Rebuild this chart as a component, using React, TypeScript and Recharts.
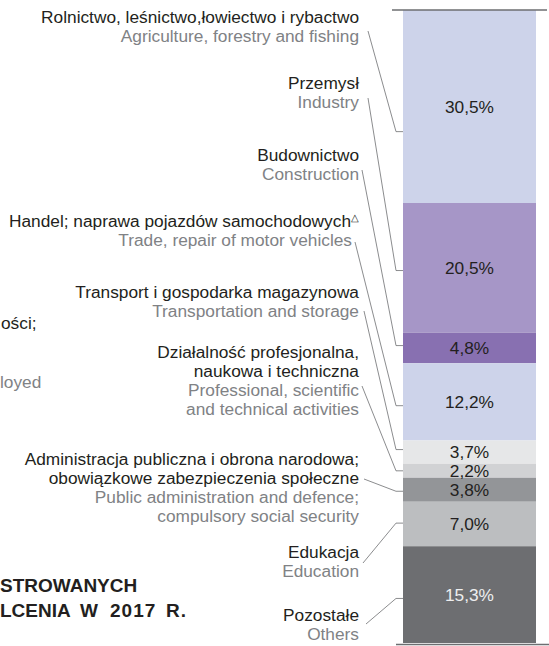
import React from "react";
import { Bar, BarChart, LabelList, XAxis, YAxis } from "recharts";

// sections of the national economy (PL / EN) and their share in %
const sectorsPl = [
  ["Rolnictwo, leśnictwo,łowiectwo i rybactwo"],
  ["Przemysł"],
  ["Budownictwo"],
  ["Handel; naprawa pojazdów samochodowych"],
  ["Transport i gospodarka magazynowa"],
  ["Działalność profesjonalna,", "naukowa i techniczna"],
  ["Administracja publiczna i obrona narodowa;", "obowiązkowe zabezpieczenia społeczne"],
  ["Edukacja"],
  ["Pozostałe"],
];
const sectorsEn = [
  ["Agriculture, forestry and fishing"],
  ["Industry"],
  ["Construction"],
  ["Trade, repair of motor vehicles"],
  ["Transportation and storage"],
  ["Professional, scientific", "and technical activities"],
  ["Public administration and defence;", "compulsory social security"],
  ["Education"],
  ["Others"],
];
const shares = [30.5, 20.5, 4.8, 12.2, 3.7, 2.2, 3.8, 7.0, 15.3];

const barColors = [
  "#cdd3ea",
  "#a696c7",
  "#8870b1",
  "#cdd3ea",
  "#e6e7e8",
  "#d1d2d4",
  "#939598",
  "#bcbec0",
  "#6d6e71",
];

// layout of the side annotations
const FONT = "'Liberation Sans', Arial, sans-serif";
const FONT_SIZE = 17.3;
const TEXT_RIGHT = 359;
const LINE_H = 19;
const blockTop = [23, 89, 161, 227, 298, 358, 465, 558, 621];
const enShift = [0, 0, 0, -7, 0, 0, 0, 0, 0];
const leaderStart = [
  [368, 31],
  [368, 98],
  [362, 170],
  [355, 242],
  [364, 311],
  [362, 386],
  [364, 479],
  [363, 563],
  [366, 624],
];
const leaderFrac = [0.63, 0.52, 0.42, 0.55, 0.39, 0.5, 0.56, 0.48, 0.54];

const chartData = [
  shares.reduce(
    (row: any, v, i) => ({ ...row, [`s${i}`]: v }),
    { name: "2017" }
  ),
];

const fmt = (v: number) => `${v.toFixed(1).replace(".", ",")}%`;

const SectorText = ({ index }: { index: number }) => {
  const top = blockTop[index];
  const pl = sectorsPl[index];
  const en = sectorsEn[index];
  return (
    <g fontFamily={FONT} fontSize={FONT_SIZE} textAnchor="end">
      {pl.map((t, i) => (
        <text key={`pl${i}`} x={TEXT_RIGHT} y={top + i * LINE_H} fill="#231f20">
          {t}
          {index === 3 && (
            <tspan fontSize={10} dy={-6}>
              △
            </tspan>
          )}
        </text>
      ))}
      {en.map((t, i) => (
        <text
          key={`en${i}`}
          x={TEXT_RIGHT + enShift[index]}
          y={top + (pl.length + i) * LINE_H}
          fill="#808285"
        >
          {t}
        </text>
      ))}
    </g>
  );
};

// pieces of the neighbouring chart cut off by the left edge
const CutOffText = () => (
  <g fontFamily={FONT}>
    <text x={1} y={329} fontSize={FONT_SIZE} fill="#231f20">
      ości;
    </text>
    <text x={0} y={388} fontSize={FONT_SIZE} fill="#808285">
      loyed
    </text>
    <text x={0} y={592} fontSize={19} fontWeight="bold" fill="#231f20">
      STROWANYCH
    </text>
    <text x={0} y={617} fontSize={19} fontWeight="bold" fill="#231f20">
      <tspan x={0}>LCENIA</tspan>
      <tspan x={80}>W</tspan>
      <tspan x={110} letterSpacing={1}>
        2017
      </tspan>
      <tspan x={166} letterSpacing={1}>
        R.
      </tspan>
    </text>
  </g>
);

const SegmentLabel = ({ props, index }: { props: any; index: number }) => {
  const vb = props.viewBox ?? props;
  const { x, width } = vb;
  // reversed axis gives negative heights, so normalise the box
  const top = Math.min(vb.y, vb.y + vb.height);
  const h = Math.abs(vb.height);
  const [sx, sy] = leaderStart[index];
  const ey = top + h * leaderFrac[index];
  const last = index === shares.length - 1;
  return (
    <g>
      <polyline
        points={`${sx},${sy} ${x - 7},${ey} ${x},${ey}`}
        fill="none"
        stroke="#6d6e71"
        strokeWidth={0.8}
      />
      <text
        x={x + width / 2}
        y={top + h / 2}
        dy="0.36em"
        textAnchor="middle"
        fontFamily={FONT}
        fontSize={FONT_SIZE}
        fill={last ? "#eeeeef" : "#231f20"}
      >
        {fmt(props.value)}
      </text>
      {index === 0 && (
        <line
          x1={x - 11}
          x2={x + width + 11}
          y1={top}
          y2={top}
          stroke="#6d6e71"
          strokeWidth={1.4}
        />
      )}
      {last && (
        <line
          x1={x - 7}
          x2={549}
          y1={top + h + 1.5}
          y2={top + h + 1.5}
          stroke="#6d6e71"
          strokeWidth={1.4}
        />
      )}
      <SectorText index={index} />
      {index === 0 && <CutOffText />}
    </g>
  );
};

const SectorBarChart = () => {
  return (
    <BarChart
      width={549}
      height={646}
      data={chartData}
      barCategoryGap={0}
      margin={{ top: 10, right: 13, bottom: 3, left: 403 }}
    >
      <XAxis dataKey="name" hide />
      <YAxis hide type="number" domain={[0, 100]} reversed />
      {shares.map((_, i) => (
        <Bar
          key={i}
          dataKey={`s${i}`}
          stackId="a"
          fill={barColors[i]}
          isAnimationActive={false}
        >
          <LabelList
            dataKey={`s${i}`}
            content={(props: any) => <SegmentLabel props={props} index={i} />}
          />
        </Bar>
      ))}
    </BarChart>
  );
};

export default function App() {
  return (
    <div style={{ width: 549, height: 646, background: "#fff" }}>
      <style>{"body{margin:0}"}</style>
      <SectorBarChart />
    </div>
  );
}
